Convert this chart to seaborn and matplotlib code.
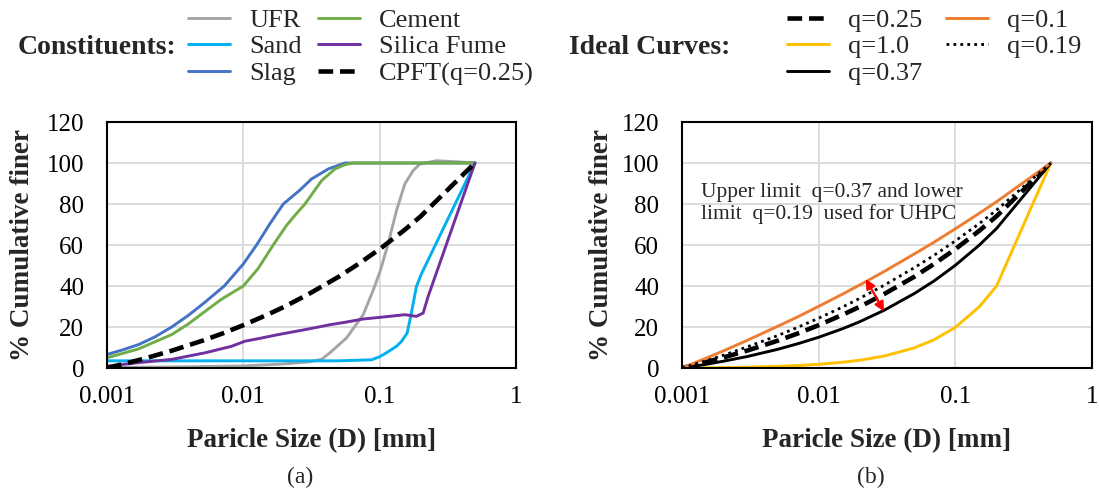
import numpy as np
import pandas as pd
import seaborn as sns
import matplotlib.pyplot as plt
from matplotlib.ticker import NullLocator

# ---- (a) constituents ----
ufr_d = [0.001, 0.003, 0.01, 0.02, 0.03, 0.0375, 0.0431, 0.0572, 0.0757, 0.0897, 0.1015,
         0.1154, 0.133, 0.153, 0.176, 0.197, 0.261, 0.366, 0.5]
ufr_p = [0.3, 0.5, 1.0, 2.0, 3.0, 4.2, 7.4, 14.7, 26, 38, 47.8,
         60.7, 76.9, 89.8, 96.3, 99.5, 101.1, 100.6, 100]

sand_d = [0.001, 0.05, 0.0872, 0.1, 0.112, 0.133, 0.1447, 0.159, 0.171, 0.186, 0.2027, 0.5]
sand_p = [3.5, 3.5, 4.0, 5.5, 7.4, 10.6, 13, 17, 27, 39.7, 46, 100]

slag_d = [0.001, 0.00128, 0.0017, 0.00225, 0.00298, 0.00395, 0.00523, 0.00724, 0.00998,
          0.0125, 0.01567, 0.01963, 0.026, 0.0316, 0.042, 0.0556, 0.5]
slag_p = [6.6, 8.7, 11.4, 15.2, 20, 25.7, 32.1, 40, 50.7,
          60, 70.4, 80, 86.8, 92.2, 97.1, 100, 100]

cement_d = [0.001, 0.0017, 0.00298, 0.00395, 0.00523, 0.00693, 0.01, 0.01286, 0.01656,
            0.02076, 0.0239, 0.0283, 0.0375, 0.047, 0.0556, 0.064, 0.5]
cement_p = [5.0, 9.3, 16.3, 21.5, 27.6, 33.6, 40, 48.6, 60,
            69.6, 74.5, 80, 91.4, 97.1, 99.2, 100, 100]

sf_d = [0.001, 0.0017, 0.00298, 0.00523, 0.0082, 0.0103, 0.01286, 0.018, 0.0283, 0.0431,
        0.0556, 0.0757, 0.1, 0.153, 0.186, 0.2085, 0.227, 0.5]
sf_p = [0.9, 2.6, 4.2, 7.4, 10.6, 13.1, 14.3, 16.3, 18.7, 21.1,
        22.3, 23.9, 24.7, 26, 25.2, 26.8, 35, 100]

# ---- (b) ideal curves ----
ideal_d = [0.001, 0.0015, 0.002, 0.003, 0.005, 0.007, 0.01, 0.015, 0.02, 0.03, 0.05, 0.07, 0.1, 0.15, 0.2, 0.5]
q025 = [0, 2.9, 5.1, 8.5, 13.3, 16.8, 20.9, 26.0, 29.9, 36.0, 44.5, 50.8, 58.0, 67.0, 74.0, 100]
q100 = [0, 0.1, 0.2, 0.4, 0.8, 1.2, 1.8, 2.8, 3.8, 5.8, 9.8, 13.8, 19.8, 29.9, 39.9, 100]
q037 = [0, 1.8, 3.3, 5.6, 9.1, 11.8, 15.0, 19.2, 22.6, 28.1, 36.3, 42.5, 50.1, 60.0, 68.0, 100]
q010 = [0, 4.8, 8.3, 13.5, 20.3, 24.9, 30.1, 36.1, 40.5, 47.0, 55.6, 61.4, 67.9, 75.5, 81.1, 100]
q019 = [0, 3.5, 6.2, 10.3, 15.8, 19.8, 24.3, 29.8, 34.0, 40.3, 48.9, 55.0, 62.0, 70.5, 77.0, 100]

arrow_top = (0.0216, 44.6)
arrow_bot = (0.0308, 26.4)
note = "Upper limit  q=0.37 and lower\nlimit  q=0.19  used for UHPC"

sns.set_theme(style="whitegrid", rc={
    "grid.color": "#D9D9D9", "grid.linewidth": 1.3,
    "axes.edgecolor": "black", "axes.linewidth": 1.5,
})
plt.rcParams['font.family'] = ['Liberation Serif', 'DejaVu Serif']

fig = plt.figure(figsize=(10.99, 4.91), dpi=100)
ax1 = fig.add_axes([0.0974, 0.2505, 0.3721, 0.501])
ax2 = fig.add_axes([0.6206, 0.2505, 0.373, 0.501])

dash = (0, (3.2, 1.5))
left_series = [
    ("UFR", ufr_d, ufr_p, "#A5A5A5", "-", 2.1),
    ("Sand", sand_d, sand_p, "#00B0F0", "-", 2.1),
    ("Slag", slag_d, slag_p, "#4472C4", "-", 2.1),
    ("Cement", cement_d, cement_p, "#70AD47", "-", 2.1),
    ("Silica Fume", sf_d, sf_p, "#7030A0", "-", 2.1),
    ("CPFT(q=0.25)", ideal_d, q025, "black", dash, 3.3),
]
right_series = [
    ("q=0.25", q025, "black", dash, 3.3),
    ("q=1.0", q100, "#FFC000", "-", 2.1),
    ("q=0.37", q037, "black", "-", 2.1),
    ("q=0.1", q010, "#ED7D31", "-", 2.1),
    ("q=0.19", q019, "black", (0, (1, 1.5)), 2.0),
]

for name, d, p, c, ls, lw in left_series:
    sns.lineplot(x=d, y=p, ax=ax1, color=c, ls=ls, lw=lw, label=name,
                 sort=False, estimator=None)
for name, p, c, ls, lw in right_series:
    sns.lineplot(x=ideal_d, y=p, ax=ax2, color=c, ls=ls, lw=lw, label=name,
                 sort=False, estimator=None)

for ax in (ax1, ax2):
    ax.set_xscale('log')
    ax.set_xlim(0.001, 1)
    ax.set_ylim(0, 120)
    ax.set_xticks([0.001, 0.01, 0.1, 1], labels=['0.001', '0.01', '0.1', '1'])
    ax.xaxis.set_minor_locator(NullLocator())
    ax.set_yticks([0, 20, 40, 60, 80, 100, 120])
    ax.tick_params(axis='both', labelsize=18, colors='black', direction='in',
                   length=6, width=1.5)
    ax.tick_params(axis='x', pad=13)
    ax.tick_params(axis='y', pad=16.5)
    ax.set_xlabel('Paricle Size (D) [mm]', fontsize=19.5, fontweight='bold')
    ax.set_ylabel('% Cumulative finer', fontsize=19.5, fontweight='bold')
    ax.xaxis.set_label_coords(0.5, -0.245)
    for s in ax.spines.values():
        s.set_color('black')
        s.set_linewidth(1.5)
    if ax.get_legend() is not None:
        ax.get_legend().remove()
ax1.yaxis.set_label_coords(-0.176, 0.5)
ax2.yaxis.set_label_coords(-0.166, 0.5)

ax2.text(0.00138, 80.2, note, fontsize=15.5, va='center', ha='left', linespacing=1.1)
ax2.annotate('', xy=arrow_top, xytext=arrow_bot,
             arrowprops=dict(arrowstyle='<|-|>', color='red', lw=1.6, mutation_scale=14))

leg_kw = dict(loc='upper left', ncol=2, frameon=False, fontsize=19,
              handlelength=1.6, handletextpad=0.72,
              labelspacing=0.12, borderpad=0, borderaxespad=0)
h, l = ax1.get_legend_handles_labels()
fig.legend(h, l, bbox_to_anchor=(0.171, 0.983), columnspacing=0.6, **leg_kw)
h, l = ax2.get_legend_handles_labels()
fig.legend(h, l, bbox_to_anchor=(0.716, 0.983), columnspacing=0.9, **leg_kw)

fig.text(0.016, 0.904, 'Constituents:', fontsize=20, fontweight='bold', va='center')
fig.text(0.518, 0.904, 'Ideal Curves:', fontsize=20, fontweight='bold', va='center')
fig.text(0.273, 0.027, '(a)', fontsize=17, ha='center', va='center')
fig.text(0.792, 0.027, '(b)', fontsize=17, ha='center', va='center')

plt.savefig('out.png', dpi=100)
